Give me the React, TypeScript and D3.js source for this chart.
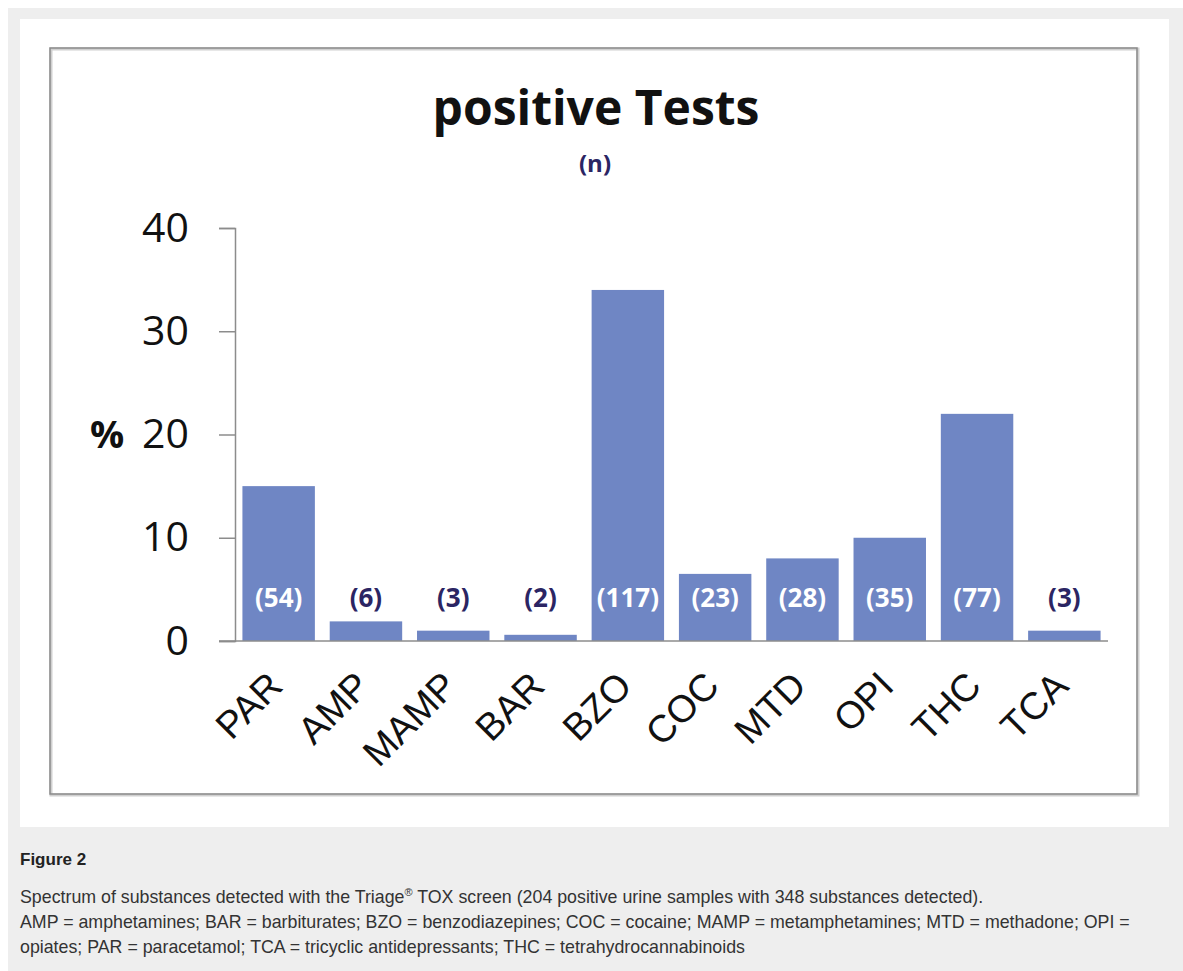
import { useEffect, useRef } from 'react';
import * as d3 from 'd3';

const categories = ['PAR', 'AMP', 'MAMP', 'BAR', 'BZO', 'COC', 'MTD', 'OPI', 'THC', 'TCA'];
const percents = [15, 1.9, 1.0, 0.6, 34, 6.5, 8, 10, 22, 1.0];
const counts = [54, 6, 3, 2, 117, 23, 28, 35, 77, 3];
const yTicks = [0, 10, 20, 30, 40];

const captionLines = [
  'AMP = amphetamines; BAR = barbiturates; BZO = benzodiazepines; COC = cocaine; MAMP = metamphetamines; MTD = methadone; OPI =',
  'opiates; PAR = paracetamol; TCA = tricyclic antidepressants; THC = tetrahydrocannabinoids',
];

const BAR_COLOR = '#6f86c4';
const NAVY = '#2b2563';
const AXIS = '#8c8c8c';
const SANS = '"Open Sans", sans-serif';
const ARIAL = '"Liberation Sans", Arial, sans-serif';

export default function App() {
  const svgRef = useRef<SVGSVGElement>(null);

  useEffect(() => {
    const svg = d3.select(svgRef.current);
    svg.selectAll('*').remove();

    const W = 1183, H = 971;
    svg.append('rect').attr('width', W).attr('height', H).attr('fill', '#fff');
    svg.append('rect').attr('x', 8).attr('y', 8).attr('width', W - 8).attr('height', H - 8).attr('fill', '#eeeeee');
    svg.append('rect').attr('x', 20).attr('y', 19).attr('width', 1149).attr('height', 808).attr('fill', '#fff');

    // chart frame
    svg.append('rect').attr('x', 51).attr('y', 49).attr('width', 1087).attr('height', 746)
      .attr('fill', 'none').attr('stroke', '#d0d0d0').attr('stroke-width', 3);
    svg.append('rect').attr('x', 50).attr('y', 48).attr('width', 1087).attr('height', 746)
      .attr('fill', 'none').attr('stroke', '#8a8a8a').attr('stroke-width', 1.5);

    const x = d3.scaleBand().domain(categories).range([235, 1108]).paddingInner(0.17).paddingOuter(0.085);
    const y = d3.scaleLinear().domain([0, 40]).range([641, 228]);

    // title
    svg.append('text').attr('x', 596).attr('y', 125).attr('text-anchor', 'middle')
      .attr('font-family', SANS).attr('font-weight', 700).attr('font-size', 48).attr('fill', '#111')
      .text('positive Tests');
    svg.append('text').attr('x', 595).attr('y', 172).attr('text-anchor', 'middle')
      .attr('font-family', SANS).attr('font-weight', 700).attr('font-size', 24).attr('fill', NAVY)
      .text('(n)');

    // y axis
    const yAxis = svg.append('g').attr('transform', 'translate(235,0)')
      .call(d3.axisLeft(y).tickValues(yTicks).tickSize(16).tickPadding(30).tickFormat(d3.format('d')));
    yAxis.select('.domain').attr('stroke', AXIS).attr('stroke-width', 1.5);
    yAxis.selectAll('.tick line').attr('stroke', AXIS).attr('stroke-width', 1.5);
    yAxis.selectAll('.tick text').attr('font-family', SANS).attr('font-size', 41).attr('fill', '#111');

    svg.append('text').attr('x', 107).attr('y', y(20)).attr('dy', '0.35em').attr('text-anchor', 'middle')
      .attr('font-family', SANS).attr('font-weight', 700).attr('font-size', 38).attr('fill', '#111')
      .text('%');

    // bars
    svg.append('g').selectAll('rect').data(categories).join('rect')
      .attr('x', (d) => x(d)!).attr('width', x.bandwidth())
      .attr('y', (_, i) => y(percents[i])).attr('height', (_, i) => y(0) - y(percents[i]))
      .attr('fill', BAR_COLOR);

    // x axis line
    svg.append('line').attr('x1', 219).attr('x2', 1108).attr('y1', y(0)).attr('y2', y(0))
      .attr('stroke', AXIS).attr('stroke-width', 1.5);

    // count labels
    svg.append('g').selectAll('text').data(categories).join('text')
      .attr('x', (d) => x(d)! + x.bandwidth() / 2).attr('y', y(3.3)).attr('text-anchor', 'middle')
      .attr('font-family', SANS).attr('font-weight', 700).attr('font-size', 26)
      .attr('fill', (_, i) => (percents[i] > 5 ? '#fff' : NAVY))
      .text((_, i) => `(${counts[i]})`);

    // category labels
    svg.append('g').selectAll('text').data(categories).join('text')
      .attr('transform', (d) => `translate(${x(d)! + x.bandwidth() / 2 + 6},688) rotate(-45)`)
      .attr('text-anchor', 'end').attr('font-family', ARIAL).attr('font-size', 38).attr('fill', '#111')
      .text((d) => d);

    // caption
    svg.append('text').attr('x', 20).attr('y', 865).attr('font-family', ARIAL).attr('font-weight', 700)
      .attr('font-size', 17).attr('fill', '#222').text('Figure 2');

    const l1 = svg.append('text').attr('x', 20).attr('y', 903).attr('font-family', ARIAL)
      .attr('font-size', 17.8).attr('fill', '#333');
    l1.append('tspan').text('Spectrum of substances detected with the Triage');
    l1.append('tspan').attr('font-size', 11).attr('dy', -7).text('®');
    l1.append('tspan').attr('dy', 7).text(' TOX screen (204 positive urine samples with 348 substances detected).');

    svg.append('g').selectAll('text').data(captionLines).join('text')
      .attr('x', 20).attr('y', (_, i) => 928 + i * 25).attr('font-family', ARIAL)
      .attr('font-size', 17.8).attr('fill', '#333').text((d) => d);
  }, []);

  return (
    <svg ref={svgRef} width={1183} height={971}
      style={{ position: 'absolute', left: 0, top: 0, display: 'block' }} />
  );
}
